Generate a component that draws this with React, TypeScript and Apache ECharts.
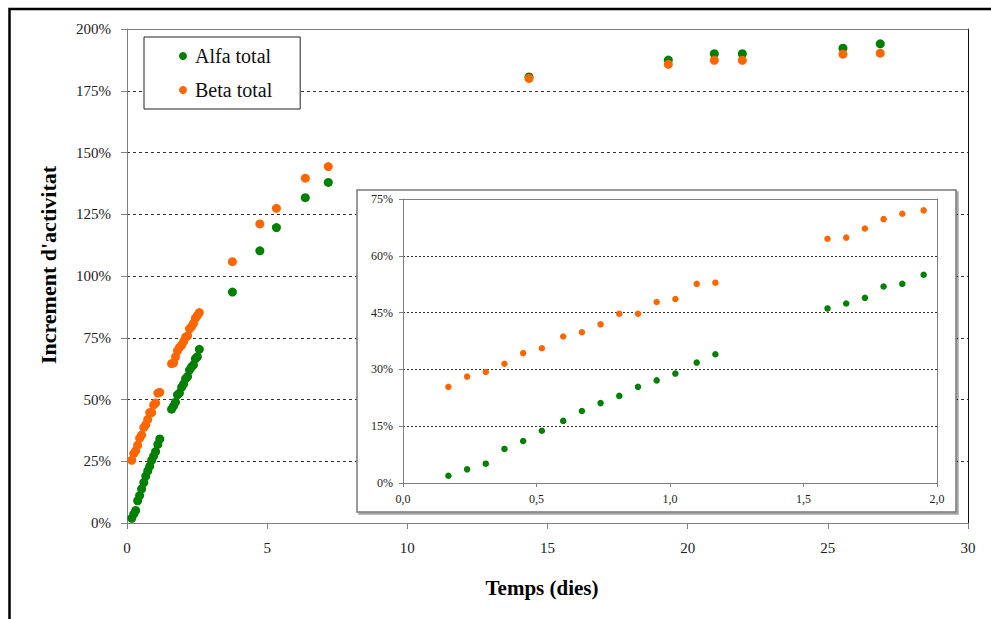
import React, { useEffect, useRef } from "react";
import * as echarts from "echarts";

const FONT = '"Liberation Serif", "Times New Roman", serif';

// Time (days)
const timeDays = [
  0.17, 0.24, 0.31, 0.38, 0.45, 0.52, 0.6, 0.67, 0.74, 0.81, 0.88, 0.95, 1.02, 1.1, 1.17,
  1.59, 1.66, 1.73, 1.8, 1.87, 1.95, 2.02, 2.09, 2.16, 2.23, 2.3, 2.37, 2.44, 2.51, 2.58,
  3.76, 4.74, 5.33, 6.36, 7.18, 14.34, 19.31, 20.95, 21.95, 25.54, 26.87,
];

// Alfa total (% increment)
const alfaTotal = [
  1.9, 3.6, 5.1, 9.0, 11.1, 13.8, 16.4, 19.0, 21.1, 23.0, 25.4, 27.1, 28.9, 31.8, 34.0,
  46.1, 47.4, 48.9, 51.9, 52.6, 55.0, 56.3, 58.4, 59.3, 61.9, 63.2, 64.0, 66.5, 67.3, 70.3,
  93.5, 110.2, 119.6, 131.7, 137.9, 180.6, 187.4, 190.0, 190.0, 192.2, 194.0,
];

// Beta total (% increment)
const betaTotal = [
  25.4, 28.1, 29.3, 31.5, 34.3, 35.6, 38.7, 39.8, 41.9, 44.7, 44.7, 47.8, 48.6, 52.6, 52.9,
  64.5, 64.8, 67.2, 69.7, 71.1, 72.0, 73.5, 75.2, 75.8, 78.6, 79.5, 80.8, 82.9, 84.0, 85.2,
  105.8, 121.1, 127.4, 139.6, 144.3, 180.0, 185.7, 187.3, 187.3, 189.8, 190.2,
];

const seriesNames = ["Alfa total", "Beta total"];
const colors = ["#008000", "#ff6600"];

const mainXTicks = { min: 0, max: 30, interval: 5 };
const mainYTicks = { min: 0, max: 200, interval: 25 };
const insetXTicks = { min: 0, max: 2, interval: 0.5 };
const insetYTicks = { min: 0, max: 75, interval: 15 };

const xTitle = "Temps (dies)";
const yTitle = "Increment d'activitat";

export default function App() {
  const ref = useRef<HTMLDivElement>(null);

  useEffect(() => {
    const chart = echarts.init(ref.current!, null, { renderer: "svg" });
    const alfaPts = timeDays.map((t, i) => [t, alfaTotal[i]]);
    const betaPts = timeDays.map((t, i) => [t, betaTotal[i]]);
    const alfaInset = alfaPts.filter((p) => p[0] <= insetXTicks.max);
    const betaInset = betaPts.filter((p) => p[0] <= insetXTicks.max);

    const gray = "#808080";
    const lineOnly = (gridIndex: number, position: string, color: string, z: number) => ({
      gridIndex,
      position,
      type: "value",
      min: 0,
      max: 1,
      z,
      axisLine: { show: true, onZero: false, lineStyle: { color, width: 1 } },
      axisTick: { show: false },
      axisLabel: { show: false },
      splitLine: { show: false },
    });

    const scatter = (name: string, color: string, idx: number, data: number[][], size: number, z: number) => ({
      name,
      type: "scatter",
      xAxisIndex: idx,
      yAxisIndex: idx,
      data,
      symbol: "circle",
      symbolSize: size,
      itemStyle: { color, opacity: 1 },
      emphasis: { disabled: true },
      z,
    });

    chart.setOption({
      animation: false,
      backgroundColor: "#fff",
      textStyle: { fontFamily: FONT },
      grid: [
        { left: 127, top: 29, width: 841, height: 494 },
        { left: 403, top: 199, width: 534, height: 284, z: 4 },
      ],
      legend: {
        data: seriesNames,
        orient: "vertical",
        left: 144,
        top: 37,
        padding: [9, 28, 9, 35],
        itemGap: 14,
        itemWidth: 14,
        itemHeight: 8,
        icon: "circle",
        backgroundColor: "#fff",
        borderColor: "#222",
        borderWidth: 1,
        borderRadius: 0,
        textStyle: { fontFamily: FONT, fontSize: 20, color: "#111", lineHeight: 20 },
        selectedMode: false,
      },
      xAxis: [
        {
          gridIndex: 0,
          type: "value",
          ...mainXTicks,
          axisLine: { show: true, onZero: false, lineStyle: { color: gray } },
          axisTick: { show: true, length: 6, lineStyle: { color: gray } },
          axisLabel: { fontFamily: FONT, fontSize: 15, color: "#222", margin: 17 },
          splitLine: { show: false },
        },
        lineOnly(0, "top", gray, 0),
        {
          gridIndex: 1,
          type: "value",
          ...insetXTicks,
          z: 4,
          axisLine: { show: true, onZero: false, lineStyle: { color: gray } },
          axisTick: { show: true, length: 4, lineStyle: { color: gray } },
          axisLabel: {
            fontFamily: FONT,
            fontSize: 12,
            color: "#222",
            margin: 10,
            formatter: (v: number) => v.toFixed(1).replace(".", ","),
          },
          splitLine: { show: false },
        },
        lineOnly(1, "top", gray, 4),
      ],
      yAxis: [
        {
          gridIndex: 0,
          type: "value",
          ...mainYTicks,
          axisLine: { show: true, onZero: false, lineStyle: { color: gray } },
          axisTick: { show: true, length: 6, lineStyle: { color: gray } },
          axisLabel: {
            fontFamily: FONT,
            fontSize: 15,
            color: "#222",
            margin: 16,
            formatter: (v: number) => `${v}%`,
          },
          splitLine: {
            show: true,
            showMinLine: false,
            showMaxLine: false,
            lineStyle: { color: "#333", type: [3, 3], width: 1 },
          },
        },
        lineOnly(0, "right", "#111", 0),
        {
          gridIndex: 1,
          type: "value",
          ...insetYTicks,
          z: 4,
          axisLine: { show: true, onZero: false, lineStyle: { color: gray } },
          axisTick: { show: true, length: 4, lineStyle: { color: gray } },
          axisLabel: {
            fontFamily: FONT,
            fontSize: 12,
            color: "#222",
            margin: 10,
            formatter: (v: number) => `${v}%`,
          },
          splitLine: {
            show: true,
            showMinLine: false,
            showMaxLine: false,
            lineStyle: { color: "#333", type: [2, 2], width: 1 },
          },
        },
        lineOnly(1, "right", gray, 4),
      ],
      graphic: [
        {
          type: "rect",
          z: 3,
          shape: { x: 357, y: 190, width: 599, height: 322 },
          style: {
            fill: "#fff",
            stroke: "#7a7a7a",
            lineWidth: 1.5,
            shadowColor: "rgba(0,0,0,0.35)",
            shadowOffsetX: 2,
            shadowOffsetY: 2,
            shadowBlur: 0,
          },
        },
        {
          type: "rect",
          z: 10,
          shape: { x: 9.5, y: 9, width: 1200, height: 900 },
          style: { fill: "none", stroke: "#000", lineWidth: 2.5 },
        },
        {
          type: "text",
          z: 10,
          x: 48,
          y: 265,
          rotation: Math.PI / 2,
          style: {
            text: yTitle,
            fontFamily: FONT,
            fontSize: 22,
            fontWeight: "bold",
            fill: "#000",
            textAlign: "center",
            textVerticalAlign: "middle",
          },
        },
        {
          type: "text",
          z: 10,
          x: 542,
          y: 588,
          style: {
            text: xTitle,
            fontFamily: FONT,
            fontSize: 21,
            fontWeight: "bold",
            fill: "#000",
            textAlign: "center",
            textVerticalAlign: "middle",
          },
        },
      ],
      series: [
        scatter(seriesNames[0], colors[0], 0, alfaPts, 9, 2),
        scatter(seriesNames[1], colors[1], 0, betaPts, 9, 2),
        scatter(seriesNames[0], colors[0], 2, alfaInset, 6.5, 5),
        scatter(seriesNames[1], colors[1], 2, betaInset, 6.5, 5),
      ],
    });
    return () => chart.dispose();
  }, []);

  return (
    <div
      ref={ref}
      style={{ position: "absolute", left: 0, top: 0, width: 991, height: 619, background: "#fff" }}
    />
  );
}
